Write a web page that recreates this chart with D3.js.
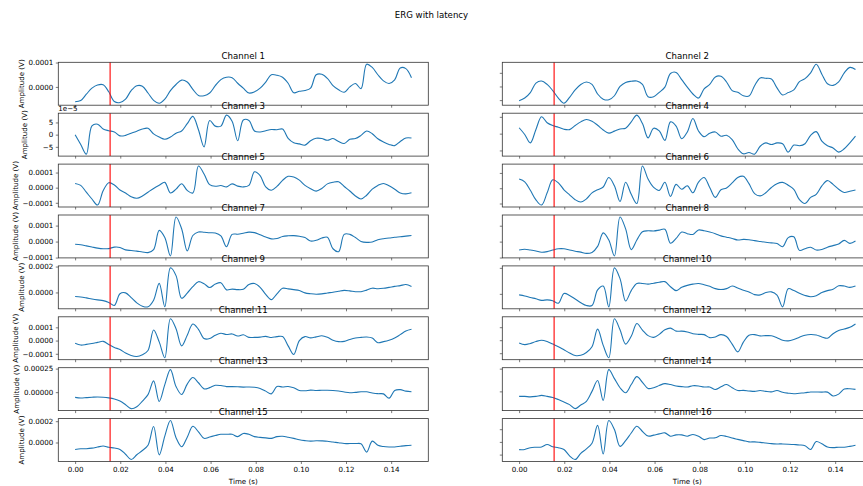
<!DOCTYPE html>
<html>
<head>
<meta charset="utf-8">
<script src="https://cdnjs.cloudflare.com/ajax/libs/d3/7.8.5/d3.min.js"></script>
<style>
    body { margin: 0; background: #fff; }
    text { font-family: 'DejaVu Sans', sans-serif; fill: #000; }
</style>
</head>
<body>
<div class="canvas"></div>
<script>
// sample times (s), 61 samples over the recording
const time = d3.range(61).map(i => i * 0.149 / 60);

// amplitudes per channel, in units of 1e-5 V
const ch1 = [-6.1, -5.6, -3.0, -0.5, 0.8, 0.9, -2.0, -6.0, -6.4, -5.0,
    -1.5, 0.5, 0.3, -2.5, -5.5, -6.7, -5.0, -1.5, 1.0, 2.8,
    2.0, -1.0, -3.5, -3.6, -2.5, 0.5, 3.0, 4.0, 3.8, 1.5,
    -0.5, -2.5, -2.0, -0.5, 2.0, 5.0, 4.8, 4.0, 1.5, -2.4,
    -1.8, -1.5, -0.5, 5.0, 5.2, 3.5, 0.5, -1.2, -2.2, 0.0,
    1.4, -0.7, 9.3, 8.0, 5.0, 2.5, 1.4, 2.9, 7.8, 7.5, 3.8];
const ch2 = [-10.5, -8.5, -4.5, 2.5, 4.0, 1.5, -3.0, -8.5, -12.3, -8.0,
    -2.5, 1.5, 3.3, 1.5, -5.5, -9.3, -9.8, -6.8, 0.0, 3.0,
    3.8, 4.0, 1.5, -7.5, -7.5, -4.3, -0.5, 9.5, 10.3, 5.0,
    -0.5, -5.5, -8.5, -1.8, 1.5, 7.0, 7.5, 3.3, -3.0, -4.3,
    -6.8, -7.0, 0.5, 6.3, 6.0, 5.5, -1.0, -6.2, -4.5, -2.5,
    3.5, 5.8, 10.0, 16.3, 9.0, 2.0, 0.8, 3.3, 10.0, 14.0, 12.5];
const ch3 = [0.0, -4.0, -8.0, 3.6, 4.3, 2.3, 1.6, 1.1, -0.5, -0.3,
    0.6, 1.4, 2.3, 2.6, 0.3, -1.0, -1.9, -1.0, 0.6, 1.5,
    4.5, 7.5, 2.0, -5.0, 5.8, 3.5, 3.5, 8.0, 5.5, -2.5,
    6.0, 5.8, 1.5, 1.1, 1.6, 2.1, 2.0, 2.3, -1.5, -3.3,
    -3.8, -4.3, -2.5, -1.5, -1.6, -2.3, -1.6, -2.8, -3.6, -1.9,
    -1.6, -0.3, 1.5, 0.4, -1.7, -3.0, -4.0, -4.5, -2.8, -1.4, -1.4];
const ch4 = [3.5, -0.5, -5.5, 2.5, 10.0, 6.5, 4.8, 3.8, 2.6, 2.4,
    4.8, 7.0, 8.4, 7.4, 5.0, 2.2, 0.3, 1.5, 2.8, 3.2,
    7.0, 11.0, 6.0, -2.5, 3.2, 1.6, -4.0, 7.0, 4.5, -3.0,
    1.0, 9.0, 1.6, -1.8, 0.2, 1.0, -1.5, -1.0, -3.5, -9.0,
    -12.0, -11.2, -12.2, -7.5, -5.5, -6.5, -5.5, -6.0, -11.0, -6.8,
    -7.2, -6.0, -1.0, 1.2, -4.5, -7.2, -8.5, -11.0, -9.0, -5.5, -1.5];
const ch5 = [2.8, 1.5, -3.0, -7.5, -11.5, -2.0, 3.3, 1.8, -1.5, -3.5,
    -6.0, -7.0, -5.5, -3.0, -0.5, 1.6, 3.5, -3.5, -1.0, 2.6,
    -1.8, -3.5, 14.3, 9.0, 2.0, 0.9, 1.4, 0.5, 2.5, 1.0,
    0.5, 1.5, 10.5, 8.0, 0.5, -1.7, 0.8, 4.8, 7.5, 7.0,
    5.0, 1.5, -0.7, -2.3, -0.5, 2.5, 3.6, 3.9, 0.8, -2.2,
    -5.5, -7.5, -5.0, -1.0, 1.5, 2.8, 1.2, -1.0, -3.5, -4.1, -3.4];
const ch6 = [6.0, 4.2, -1.3, -7.6, -11.0, -3.0, 5.5, 3.5, -1.0, -4.3,
    -7.5, -9.0, -7.0, -3.0, -1.0, 0.8, 7.0, 1.6, -8.7, 3.9,
    -4.0, -10.0, 14.5, 6.0, 0.5, -1.4, 3.9, -5.3, 2.5, -0.7,
    1.6, -3.0, 4.0, 7.0, 0.5, -6.0, -1.0, 0.2, 3.5, 7.0,
    7.8, 3.0, -3.5, -5.0, -3.0, 0.5, 3.0, 3.8, 2.0, -0.7,
    -7.5, -10.0, -6.0, -4.0, 1.5, 5.0, 2.5, -0.7, -2.8, -2.0, -1.2];
const ch7 = [-1.7, -2.0, -2.7, -3.4, -4.1, -4.5, -4.4, -3.5, -3.7, -5.2,
    -5.6, -6.0, -6.5, -6.9, -5.0, 7.0, 2.5, -9.0, 15.4, 8.0,
    -5.8, 3.8, 6.0, 5.8, 5.5, 5.3, 3.5, -3.2, 4.5, 4.6,
    5.2, 5.9, 5.6, 4.2, 2.8, 1.7, 1.9, 3.2, 3.6, 3.7,
    3.3, 2.5, 0.3, 0.8, 2.2, 2.7, -4.5, -6.3, 4.5, 4.5,
    2.5, 0.1, -0.5, -0.3, 1.1, 1.8, 2.2, 2.7, 3.0, 3.4, 3.8];
const ch8 = [-5.3, -4.8, -5.3, -5.9, -6.7, -6.3, -5.3, -4.5, -4.5, -5.3,
    -6.0, -6.6, -7.4, -6.8, -3.0, 5.5, 1.0, -9.0, 15.5, 8.0,
    -5.0, 1.0, 6.2, 6.8, 6.7, 7.2, 7.8, -1.0, 2.0, 6.0,
    5.0, 4.5, 7.3, 6.8, 6.0, 5.0, 3.6, 2.8, 2.0, 1.0,
    1.4, 1.2, 0.6, 0.1, -0.4, -0.8, -1.2, -3.2, 2.5, 3.0,
    -5.5, -4.5, -3.5, -5.3, -4.9, -3.5, -2.5, -1.5, 0.8, -1.1, 0.4];
const ch9 = [-3.1, -3.5, -4.2, -5.0, -5.7, -6.3, -7.7, -10.0, -1.0, -0.3,
    -4.0, -8.0, -10.6, -11.1, -6.0, 7.0, -11.0, 19.0, 13.0, -4.5,
    -0.5, 4.5, 8.3, 6.8, 3.8, 6.5, 7.5, 2.0, 2.6, 2.2,
    2.5, 6.1, 6.9, 4.0, -1.5, -5.5, -1.0, 3.2, 2.8, 2.2,
    1.5, -0.3, -1.0, -1.4, -1.1, -0.4, 0.2, 1.0, 1.6, 1.2,
    0.6, 0.6, 1.8, 3.3, 2.9, 3.2, 3.9, 4.7, 5.3, 6.1, 4.7];
const ch10 = [-0.8, -1.6, -2.8, -3.8, -5.0, -4.6, -5.3, -7.2, 0.3, -1.2,
    -4.0, -6.8, -9.0, -9.0, 3.0, 6.0, -10.0, 20.0, 11.7, -5.5,
    2.5, 8.0, 8.0, 7.5, 8.2, 8.9, 9.4, 5.5, 2.5, 5.0,
    6.5, 7.5, 8.0, 7.0, 5.8, 4.0, 3.3, 4.0, 6.0, 4.5,
    2.8, 1.5, -0.6, -0.8, 1.0, 1.5, -1.0, -10.0, 4.0, 2.5,
    0.5, -1.2, -2.2, -1.4, 1.0, 2.5, 3.5, 6.2, 6.0, 5.0, 6.1];
const ch11 = [-2.1, -3.4, -2.9, -2.2, -1.4, -0.6, -3.0, -5.2, -6.8, -9.4,
    -11.3, -12.0, -10.7, -7.5, 8.0, -1.0, -13.0, 16.5, 9.0, -4.0,
    4.0, 12.5, 8.5, 1.5, 1.5, 4.0, 5.5, 4.6, 5.0, 3.4,
    4.4, 2.4, 2.4, 2.6, 3.2, 2.3, 3.0, 3.0, -4.0, -10.5,
    0.0, 3.0, 2.0, 2.8, 3.6, 2.5, 0.3, -0.8, -0.6, 0.8,
    1.9, 2.4, 2.7, 1.9, -1.6, -0.8, 0.3, 2.0, 4.5, 7.2, 8.5];
const ch12 = [-2.1, -3.4, -2.5, -1.0, 0.0, -1.0, -3.0, -5.0, -7.4, -9.8,
    -11.8, -11.6, -9.5, -5.0, 8.5, -4.0, -13.5, 16.5, 8.0, -3.0,
    3.0, 12.8, 7.8, 3.5, 2.2, 4.5, 8.0, 9.3, 7.0, 7.0,
    6.3, 5.0, 4.5, 4.3, 2.0, 2.5, 4.3, 2.8, -3.0, -9.0,
    -1.5, 3.8, 4.3, 3.3, 3.5, 3.4, 1.9, 0.0, -0.5, 0.5,
    2.3, 3.8, 4.4, 4.0, 2.5, 1.5, 5.0, 7.5, 8.6, 9.9, 12.5];
const ch13 = [-5.5, -6.2, -5.8, -5.4, -5.1, -5.4, -6.1, -7.3, -9.5, -13.3,
    -17.5, -15.5, -9.5, -2.6, 12.0, -9.9, 8.0, 23.9, 6.0, -2.5,
    8.5, 15.5, 10.0, 3.5, 4.8, 7.3, 7.0, 5.9, 5.9, 5.7,
    5.4, 5.5, 5.2, 4.0, 1.1, -1.8, 6.0, 5.5, 6.0, 4.6,
    1.8, 1.5, 2.2, 1.8, 2.0, 2.0, 1.8, 1.2, 0.2, -0.6,
    -0.2, 0.4, 0.4, -0.8, -1.6, -1.8, -6.3, 1.8, 2.7, 1.1, 0.4];
const ch14 = [-5.5, -5.5, -6.0, -5.5, -4.4, -5.5, -6.8, -9.0, -11.6, -14.6,
    -19.0, -15.0, -11.0, 0.0, 12.0, -9.9, 23.9, 14.0, 4.0, -1.5,
    7.5, 16.2, 10.0, 3.2, 4.0, 6.5, 8.5, 7.5, 6.0, 5.2,
    4.8, 6.2, 6.0, 4.8, 4.8, 2.0, 5.0, 7.5, 4.0, 1.0,
    1.1, 0.5, 0.0, 1.0, 0.0, -0.5, 1.0, -1.0, -2.0, -2.6,
    -2.0, -1.5, -0.7, -0.7, -0.8, -0.8, -5.0, -3.0, 2.5, 2.9, 2.2];
const ch15 = [-6.5, -5.9, -5.8, -5.3, -4.3, -3.3, -4.5, -5.2, -6.5, -11.0,
    -16.0, -11.5, -7.5, -2.6, 15.0, -11.6, 6.0, 20.6, 4.5, -4.0,
    5.0, 15.2, 10.0, 3.9, 5.2, 6.5, 7.7, 7.7, 7.7, 5.5,
    8.5, 7.7, 5.5, 4.8, 4.3, 3.9, 5.5, 5.8, 5.0, 3.9,
    2.6, 1.8, 1.3, 1.6, 1.5, 1.2, 0.4, -0.2, -1.0, -1.0,
    -1.0, -1.2, -9.0, 1.3, -2.6, -3.8, -4.2, -4.2, -3.5, -2.9, -2.6];
const ch16 = [-6.1, -6.0, -4.6, -4.2, -4.0, -2.1, -3.8, -4.6, -6.0, -11.0,
    -13.9, -9.0, -5.5, -1.0, 13.0, -9.5, 16.8, 9.7, -3.5, 1.0,
    7.0, 12.3, 8.2, 4.6, 5.3, 6.3, 7.1, 4.5, 5.5, 5.5,
    4.5, 5.8, 4.5, 1.8, 3.0, 3.2, 5.0, 4.3, 3.0, 2.0,
    1.0, 0.0, 0.0, -0.4, -0.9, -1.4, -1.6, -1.6, -1.8, -2.1,
    -2.4, -3.0, -6.0, 0.3, -1.5, -4.0, -4.5, -4.2, -4.2, -3.5, -2.6];

const channels = [ch1, ch2, ch3, ch4, ch5, ch6, ch7, ch8,
    ch9, ch10, ch11, ch12, ch13, ch14, ch15, ch16];
const channelNames = channels.map((d, i) => `Channel ${i + 1}`);

// tick values (units of 1e-5 V), one list per channel
const yTicks = [[10, 0], [-10, 0, 10], [5, 0, -5], [-10, 0, 10],
    [10, 0, -10], [-10, 0, 10], [10, 0, -10], [-10, 0, 10],
    [20, 0], [0, 20], [10, 0, -10], [-10, 0, 10],
    [25, 0], [0, 25], [20, 0], [-10, 0, 10]];
const xTicks = [0, 0.02, 0.04, 0.06, 0.08, 0.10, 0.12, 0.14];
const latency = 0.0155;

const title = 'ERG with latency';
const xLabel = 'Time (s)';
const yLabel = 'Amplitude (V)';

// layout
const dimentions = { width: 863, height: 486 };
const colX = [58.3, 502.3];
const panel = { width: 370, height: 42.9, top: 62.3, pitch: 50.9 };
const fs = { title: 8.6, tick: 7.1 };

const svg = d3.select('.canvas')
    .append('svg')
    .attr('width', dimentions.width)
    .attr('height', dimentions.height);

svg.append('text')
    .attr('x', dimentions.width / 2)
    .attr('y', 18)
    .attr('text-anchor', 'middle')
    .style('font-size', fs.title + 'px')
    .text(title);

const x = d3.scaleLinear()
    .domain([-0.00745, 0.15645])
    .range([0, panel.width]);

channels.forEach((values, i) => {
    const row = Math.floor(i / 2);
    const col = i % 2;
    const lastRow = row === 7;

    const g = svg.append('g')
        .attr('transform', `translate(${colX[col]}, ${panel.top + row * panel.pitch})`);

    // y scale with matplotlib-like 5% margins
    const ext = d3.extent(values);
    const pad = (ext[1] - ext[0]) * 0.05;
    const y = d3.scaleLinear()
        .domain([ext[0] - pad, ext[1] + pad])
        .range([panel.height, 0]);

    // label format for the left column
    let fmt = v => d3.format('.4f')(v * 1e-5);
    if (row === 1) fmt = d3.format('.0f');
    if (row === 6) fmt = v => d3.format('.5f')(v * 1e-5);

    // x axis
    const xAxis = g.append('g')
        .attr('transform', `translate(0, ${panel.height})`)
        .call(d3.axisBottom(x)
            .tickValues(xTicks)
            .tickSize(2.5)
            .tickPadding(2.5)
            .tickFormat(lastRow ? d3.format('.2f') : ''));

    // y axis
    const yAxis = g.append('g')
        .call(d3.axisLeft(y)
            .tickValues(yTicks[i].filter(v => v >= y.domain()[0] && v <= y.domain()[1]))
            .tickSize(2.5)
            .tickPadding(2.5)
            .tickFormat(col === 0 ? fmt : ''));

    [xAxis, yAxis].forEach(a => {
        a.select('.domain').remove();
        a.selectAll('line').attr('stroke', '#222').attr('stroke-width', 0.6);
        a.selectAll('text').style('font-size', fs.tick + 'px').attr('fill', '#000');
    });

    // trace
    g.append('path')
        .datum(values)
        .attr('fill', 'none')
        .attr('stroke', '#1f77b4')
        .attr('stroke-width', 1.1)
        .attr('stroke-linejoin', 'round')
        .attr('d', d3.line()
            .x((d, j) => x(time[j]))
            .y(d => y(d))
            .curve(d3.curveCatmullRom.alpha(0.5)));

    // latency marker
    g.append('line')
        .attr('x1', x(latency))
        .attr('x2', x(latency))
        .attr('y1', 0)
        .attr('y2', panel.height)
        .attr('stroke', 'red')
        .attr('stroke-width', 1.1);

    // frame
    g.append('rect')
        .attr('width', panel.width)
        .attr('height', panel.height)
        .attr('fill', 'none')
        .attr('stroke', '#333')
        .attr('stroke-width', 0.8);

    g.append('text')
        .attr('x', panel.width / 2)
        .attr('y', -3.8)
        .attr('text-anchor', 'middle')
        .style('font-size', fs.title + 'px')
        .text(channelNames[i]);

    if (col === 0) {
        let maxW = 0;
        yAxis.selectAll('text').each(function () {
            maxW = Math.max(maxW, this.getComputedTextLength());
        });
        // the scaled row keeps its label where the others sit
        if (row === 1) maxW = 22;
        const lx = -(2.5 + 2.5 + maxW + 2.8 + 1.7);
        g.append('text')
            .attr('transform', `translate(${lx}, ${panel.height / 2}) rotate(-90)`)
            .attr('text-anchor', 'middle')
            .style('font-size', fs.tick + 'px')
            .text(yLabel);

        if (row === 1) {
            g.append('text')
                .attr('x', 0)
                .attr('y', -2.5)
                .style('font-size', fs.tick + 'px')
                .text('1e\u22125');
        }
    }

    if (lastRow) {
        g.append('text')
            .attr('x', panel.width / 2)
            .attr('y', panel.height + 22.7)
            .attr('text-anchor', 'middle')
            .style('font-size', fs.tick + 'px')
            .text(xLabel);
    }
});
</script>
</body>
</html>
